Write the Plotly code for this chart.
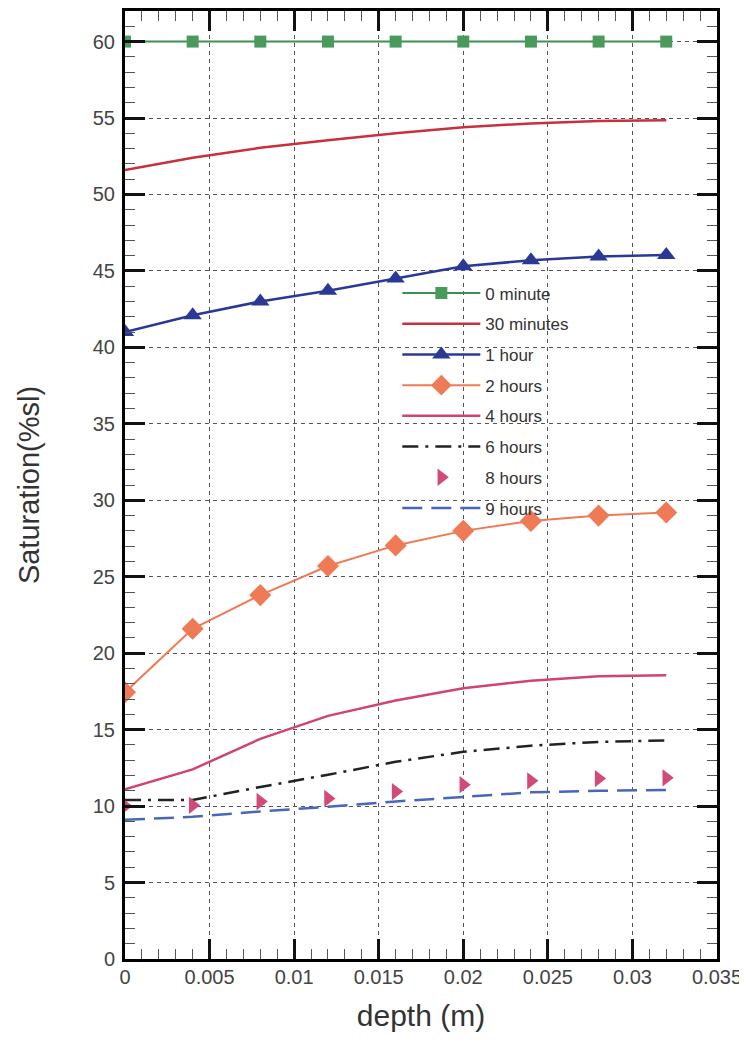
import plotly.graph_objects as go

depth = [0, 0.004, 0.008, 0.012, 0.016, 0.020, 0.024, 0.028, 0.032]
s_0min = [60, 60, 60, 60, 60, 60, 60, 60, 60]
s_30min = [51.6, 52.4, 53.05, 53.55, 54.0, 54.4, 54.65, 54.8, 54.85]
s_1h = [41.0, 42.1, 43.0, 43.7, 44.5, 45.3, 45.7, 45.95, 46.05]
s_2h = [17.45, 21.6, 23.8, 25.7, 27.05, 28.0, 28.65, 29.0, 29.2]
s_4h = [11.1, 12.4, 14.4, 15.9, 16.9, 17.7, 18.2, 18.5, 18.55]
s_6h = [10.4, 10.4, 11.25, 12.05, 12.9, 13.55, 13.95, 14.2, 14.3]
s_8h = [10.0, 10.05, 10.3, 10.5, 10.95, 11.4, 11.65, 11.8, 11.85]
s_9h = [9.1, 9.3, 9.65, 9.95, 10.3, 10.6, 10.9, 11.0, 11.05]

series_names = ["0 minute", "30 minutes", "1 hour", "2 hours", "4 hours", "6 hours", "8 hours", "9 hours"]

FONT = "Liberation Sans, Arial, sans-serif"

fig = go.Figure()

fig.add_trace(go.Scatter(x=depth, y=s_0min, name=series_names[0], mode="lines+markers",
                         line=dict(color="#3f8f52", width=2),
                         marker=dict(symbol="square", size=12, color="#4a9a5c"),
                         legendgroup="a"))
fig.add_trace(go.Scatter(x=depth, y=s_30min, name=series_names[1], mode="lines",
                         line=dict(color="#c9303e", width=2.5), legendgroup="b"))
fig.add_trace(go.Scatter(x=depth, y=s_1h, name=series_names[2], mode="lines+markers",
                         line=dict(color="#2a3a94", width=2.5),
                         marker=dict(symbol="triangle-up", size=16, color="#2a3a94"),
                         legendgroup="c"))
fig.add_trace(go.Scatter(x=depth, y=s_2h, name=series_names[3], mode="lines+markers",
                         line=dict(color="#ef7a56", width=2),
                         marker=dict(symbol="diamond", size=17, color="#ef7a56"),
                         legendgroup="d"))
fig.add_trace(go.Scatter(x=depth, y=s_4h, name=series_names[4], mode="lines",
                         line=dict(color="#d04470", width=2.5), legendgroup="e"))
fig.add_trace(go.Scatter(x=depth, y=s_6h, name=series_names[5], mode="lines",
                         line=dict(color="#222222", width=2.5, dash="16px,7px,3px,7px"),
                         legendgroup="f"))
fig.add_trace(go.Scatter(x=depth, y=s_8h, name=series_names[6], mode="markers",
                         marker=dict(symbol="triangle-right", size=15, color="#d24a7a"),
                         legendgroup="g"))
fig.add_trace(go.Scatter(x=depth, y=s_9h, name=series_names[7], mode="lines",
                         line=dict(color="#4a66b8", width=2.5, dash="20px,9px"),
                         legendgroup="h"))

axis_common = dict(
    showline=True, linecolor="black", linewidth=3, mirror="allticks",
    ticks="inside", ticklen=20, tickwidth=3, tickcolor="#111",
    showgrid=True, gridcolor="#555", gridwidth=1, griddash="4px,4px",
    zeroline=False,
    tickfont=dict(family=FONT, size=20, color="#444"),
)

fig.update_xaxes(range=[0, 0.035], dtick=0.005, tick0=0,
                 minor=dict(ticks="inside", ticklen=10, tickwidth=1, tickcolor="#555", dtick=0.001, showgrid=False),
                 title=dict(text="depth (m)", font=dict(family=FONT, size=30, color="#333"), standoff=18),
                 ticklabelstandoff=-2,
                 **axis_common)
fig.update_yaxes(range=[0, 62], dtick=5, tick0=0,
                 minor=dict(ticks="inside", ticklen=10, tickwidth=1, tickcolor="#555", dtick=1, showgrid=False),
                 title=dict(text="Saturation(%sl)", font=dict(family=FONT, size=29, color="#333"), standoff=45),
                 ticklabelstandoff=3,
                 **axis_common)

fig.update_layout(
    width=747, height=1057,
    margin=dict(l=117, r=38, t=3, b=106, autoexpand=False),
    paper_bgcolor="white", plot_bgcolor="white",
    showlegend=True,
    legend=dict(x=0.46, y=0.721, xanchor="left", yanchor="top",
                bgcolor="rgba(0,0,0,0)", borderwidth=0,
                font=dict(family=FONT, size=17, color="#333"),
                tracegroupgap=5.6, itemwidth=78),
)

fig.write_html("out.html")
